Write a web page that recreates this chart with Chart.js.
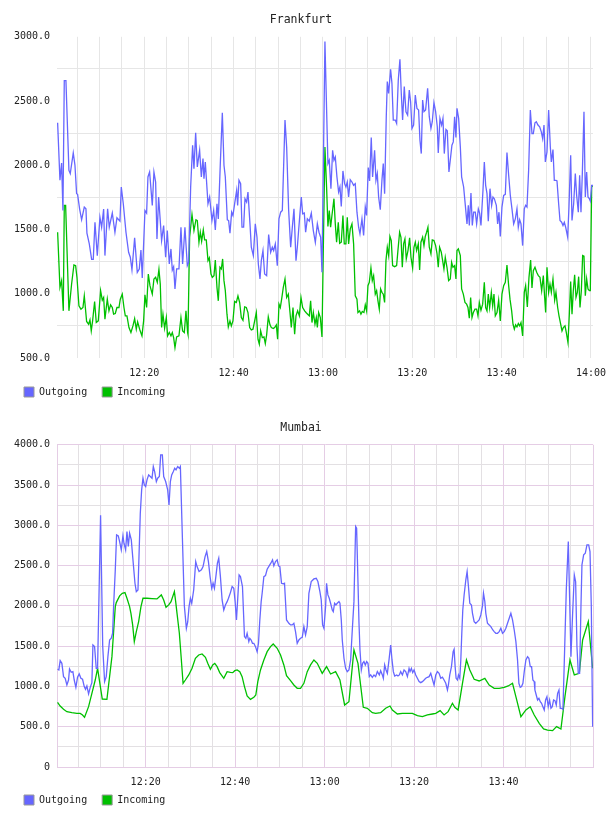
<!DOCTYPE html>
<html><head><meta charset="utf-8">
<script src="https://cdn.jsdelivr.net/npm/chart.js@4/dist/chart.umd.min.js"></script>
<style>
html,body{margin:0;padding:0;background:#fff;}
#wrap{position:relative;width:608px;height:816px;overflow:hidden;}
canvas{position:absolute;left:0;}
</style></head><body>
<div id="wrap">
<canvas id="c1" width="608" height="408" style="top:0px"></canvas>
<canvas id="c2" width="608" height="408" style="top:408px"></canvas>
</div>
<script>
// ---- DATA (time = minutes after 12:00, value) ----
const chartTitles = ['Frankfurt', 'Mumbai'];
const seriesNames = ['Outgoing', 'Incoming'];
const timeTicks = [20, 40, 60, 80, 100, 120];
const timeTickLabels = ['12:20', '12:40', '13:00', '13:20', '13:40', '14:00'];
const frankfurtYTicks = [500, 1000, 1500, 2000, 2500, 3000];
const frankfurtYLabels = ['500.0', '1000.0', '1500.0', '2000.0', '2500.0', '3000.0'];
const mumbaiYTicks = [0, 500, 1000, 1500, 2000, 2500, 3000, 3500, 4000];
const mumbaiYLabels = ['0', '500.0', '1000.0', '1500.0', '2000.0', '2500.0', '3000.0', '3500.0', '4000.0'];

const frankfurtOutgoing = [[0.60,2331],[1.12,1883],[1.49,2018],[1.79,1648],[2.09,2659],[2.46,2659],[3.13,1961],[3.43,1935],[4.10,2096],[4.48,2000],[4.85,1779],[5.07,1774],[5.52,1661],[5.97,1576],[6.57,1675],[6.94,1662],[7.16,1472],[7.69,1388],[8.21,1268],[8.58,1268],[8.96,1557],[9.48,1297],[10.07,1596],[10.45,1518],[10.90,1659],[11.19,1297],[11.79,1661],[12.16,1518],[12.84,1628],[13.43,1479],[13.88,1591],[14.55,1565],[14.85,1831],[15.30,1701],[15.90,1479],[16.49,1323],[16.87,1284],[17.24,1185],[17.84,1435],[18.43,1167],[18.88,1193],[19.25,1341],[19.55,1122],[20.15,1648],[20.52,1628],[20.82,1909],[21.19,1948],[21.79,1688],[22.16,1948],[22.54,1870],[22.84,1427],[23.21,1753],[23.88,1414],[24.33,1531],[24.78,1284],[25.15,1492],[25.60,1232],[25.97,1349],[26.27,1185],[26.57,1211],[26.87,1037],[27.24,1193],[27.76,1193],[28.21,1518],[28.58,1232],[29.10,1518],[29.63,1219],
[29.93,1245],[30.38,1831],[30.82,2156],[31.12,1974],[31.50,2253],[31.87,1987],[32.39,2117],[32.77,1909],[33.14,2052],[33.36,1896],[33.66,2026],[34.26,1701],[34.63,1753],[35.15,1570],[35.53,1648],[35.90,1497],[36.27,1701],[36.57,1583],[37.02,2013],[37.47,2409],[37.84,2000],[38.14,1909],[38.59,1576],[38.88,1570],[39.18,1472],[39.56,1635],[39.85,1609],[40.23,1701],[40.68,1805],[40.90,1688],[41.20,1883],[41.57,1857],[41.87,1518],[42.24,1518],[42.54,1740],[42.91,1714],[43.21,1792],[43.66,1544],[43.96,1362],[44.41,1297],[44.85,1544],[45.23,1440],[45.53,1232],[45.90,1115],[46.20,1258],[46.57,1336],[46.94,1154],[47.39,1141],[47.84,1461],[48.29,1323],[48.66,1362],[48.96,1336],[49.33,1388],[49.78,1219],[50.15,1583],[50.53,1635],[50.90,1648],[51.50,2352],[51.87,2143],[52.32,1648],[52.77,1362],[53.14,1518],[53.51,1661],[53.96,1258],[54.26,1362],[54.78,1596],[55.15,1753],[55.45,1622],[55.82,1628],[56.12,1479],[56.50,1583],[56.94,1565],[57.39,1628],[57.84,1492],[58.29,1401],[58.74,1544],[59.11,1479],[59.48,1440],[59.78,1167],
[60.44,2963],[61.11,2013],[61.41,2039],[61.78,1818],[62.16,2117],[62.46,2039],[62.76,2065],[63.13,1909],[63.50,1792],[63.80,1831],[64.10,1680],[64.47,1956],[64.84,1857],[65.14,1831],[65.44,1870],[65.74,1753],[66.11,1888],[66.49,1870],[66.86,1844],[67.23,1857],[67.61,1635],[67.98,1518],[68.28,1466],[68.73,1583],[69.10,1453],[69.47,1675],[69.77,1609],[70.14,1982],[70.44,1878],[70.81,2216],[71.11,1909],[71.56,2117],[71.86,1883],[72.16,1935],[72.46,1753],[72.83,1654],[73.20,1883],[73.50,2013],[73.80,1779],[74.17,2378],[74.40,2651],[74.70,2560],[75.14,2747],[75.44,2638],[75.74,2352],[76.19,2352],[76.49,2326],[76.86,2664],[77.23,2825],[77.53,2560],[77.83,2352],[78.20,2612],[78.58,2417],[78.95,2391],[79.32,2586],[79.62,2495],[79.92,2287],[80.29,2313],[80.67,2547],[81.04,2443],[81.41,2430],[81.71,2195],[82.01,2091],[82.31,2508],[82.61,2417],[82.98,2430],[83.43,2599],[83.80,2378],[84.17,2287],[84.47,2339],[84.84,2487],[85.22,2417],[85.59,2300],[85.81,2096],[86.19,2365],[86.56,2313],[86.86,2365],[87.16,2091],[87.53,2279],[87.83,2268],[88.20,1948],[88.58,2065],[88.87,2156],[89.17,2182],[89.47,2378],[89.77,2216],
[90.0,2443],[90.37,2365],[90.75,2143],[91.04,1909],[91.49,1831],[91.87,1688],[92.24,1544],[92.54,1688],[92.76,1531],[93.13,1784],[93.43,1531],[93.73,1635],[94.10,1635],[94.40,1544],[94.78,1661],[95.07,1628],[95.37,1531],[95.82,1805],[96.12,2026],[96.42,1844],[96.72,1779],[97.01,1565],[97.39,1818],[97.76,1688],[98.06,1753],[98.36,1740],[98.81,1688],[99.10,1544],[99.40,1635],[99.70,1446],[100.07,1675],[100.45,1766],[100.82,1773],[101.19,2099],[101.57,1922],[101.94,1766],[102.31,1661],[102.69,1544],[103.06,1583],[103.43,1661],[103.73,1518],[104.03,1576],[104.33,1544],[104.70,1375],[105.07,1661],[105.37,1688],[105.67,1675],[106.04,1961],[106.42,2430],[106.79,2247],[107.09,2247],[107.46,2331],[107.76,2339],[108.13,2313],[108.51,2300],[108.88,2260],[109.18,2208],[109.48,2313],[109.78,2026],[110.15,2104],[110.52,2430],[110.90,2143],[111.12,2026],[111.49,2122],[111.79,1883],[112.16,1883],[112.39,1878],[112.76,1701],[113.06,1570],[113.43,1557],[113.73,1531],[114.03,1557],[114.33,1518],[114.78,1440],[115.07,1675],[115.45,2078],[115.75,1570],[116.12,1701],[116.49,1935],[116.79,1766],[117.16,1635],[117.46,1922],[117.76,1635],[118.06,1935],[118.43,2417],[118.73,1753],[119.03,1948],[119.33,1753],[119.63,1740],[119.85,1722],[120.15,1844],[120.45,1844]];

const frankfurtIncoming = [[0.60,1479],[1.12,1050],[1.49,1102],[1.87,867],[2.09,1688],[2.39,1688],[3.13,867],[3.73,1076],[4.25,1224],[4.63,1219],[4.93,1128],[5.37,906],[5.82,880],[6.27,893],[6.57,984],[7.09,784],[7.54,763],[7.84,797],[8.13,711],[8.43,789],[8.88,940],[9.25,776],[9.70,789],[10.22,1024],[10.60,950],[10.90,971],[11.19,802],[11.72,958],[12.09,867],[12.46,914],[12.84,893],[13.13,841],[13.51,846],[13.88,893],[14.33,893],[14.63,958],[15.07,997],[15.45,893],[15.75,828],[16.12,828],[16.57,737],[17.01,698],[17.46,750],[17.84,807],[18.21,724],[18.51,781],[18.96,724],[19.48,672],[19.85,789],[20.15,992],[20.52,893],[20.90,1154],[21.27,1063],[21.79,997],[22.16,1115],[22.54,1128],[22.91,1089],[23.28,1190],[23.58,1076],[23.88,737],[24.18,841],[24.55,732],[24.93,815],[25.22,672],[25.60,698],[25.97,672],[26.27,698],[26.57,659],[26.87,581],[27.24,664],[27.76,672],[28.21,815],[28.58,711],[28.96,698],[29.33,867],[29.70,698],
[29.78,685],[30.15,1440],[30.68,1617],[31.12,1492],[31.57,1576],[31.87,1570],[32.24,1401],[32.54,1479],[32.84,1409],[33.21,1497],[33.51,1419],[33.88,1419],[34.26,1258],[34.56,1279],[34.93,1154],[35.23,1128],[35.60,1141],[35.90,1263],[36.27,1050],[36.57,945],[36.94,1206],[37.24,1193],[37.54,1271],[37.84,1102],[38.14,1024],[38.51,841],[38.81,742],[39.18,789],[39.48,750],[39.85,789],[40.23,940],[40.60,932],[40.97,984],[41.35,932],[41.72,815],[42.09,794],[42.47,898],[42.84,893],[43.21,854],[43.59,737],[43.96,719],[44.33,724],[44.71,789],[45.08,854],[45.45,646],[45.75,607],[46.05,711],[46.42,659],[46.79,664],[47.09,612],[47.39,680],[47.76,820],[48.14,758],[48.44,737],[48.88,729],[49.18,737],[49.56,758],[49.85,646],[50.15,919],[50.45,893],[50.75,958],[51.12,1050],[51.50,1115],[51.87,971],[52.24,997],[52.62,854],[52.91,737],[53.29,893],[53.66,685],[53.96,828],[54.33,867],[54.71,828],[55.08,971],[55.45,893],[55.90,867],[56.20,854],[56.57,841],[56.94,828],[57.24,945],[57.54,776],[57.84,854],[58.21,763],[58.51,815],[58.74,737],[59.03,854],[59.41,815],[59.78,664],
[60.14,1492],[60.44,2143],[60.81,1831],[61.11,1523],[61.41,1648],[61.71,1518],[62.01,1609],[62.46,1740],[62.76,1544],[63.05,1401],[63.43,1557],[63.73,1393],[64.10,1401],[64.47,1609],[64.77,1388],[65.14,1388],[65.44,1596],[65.74,1388],[66.11,1505],[66.49,1544],[66.86,1388],[67.23,984],[67.61,958],[67.83,854],[68.20,867],[68.50,841],[68.80,862],[69.17,854],[69.47,914],[69.77,867],[70.07,1063],[70.37,1089],[70.74,1201],[71.04,1102],[71.34,1141],[71.71,997],[72.01,1024],[72.31,945],[72.61,880],[72.90,1037],[73.20,1011],[73.50,997],[73.80,932],[74.10,1258],[74.40,1362],[74.70,1297],[74.99,1446],[75.29,1414],[75.59,1219],[76.04,1211],[76.49,1219],[76.78,1336],[77.16,1479],[77.46,1440],[77.76,1206],[78.05,1388],[78.35,1427],[78.65,1271],[79.03,1336],[79.40,1435],[79.70,1284],[80.07,1201],[80.37,1362],[80.67,1401],[80.96,1336],[81.34,1388],[81.64,1185],[81.93,1401],[82.31,1440],[82.61,1375],[82.90,1446],[83.20,1479],[83.50,1518],[83.80,1362],[84.17,1310],[84.47,1419],[84.84,1414],[85.22,1375],[85.52,1315],[85.81,1206],[86.11,1362],[86.49,1323],[86.79,1258],[87.08,1193],[87.38,1284],[87.76,1206],[88.13,1102],[88.50,1115],[88.80,1245],[89.10,1206],[89.47,1219],[89.77,1115],
[90.0,1336],[90.30,1349],[90.75,1297],[91.04,1037],[91.42,997],[91.79,932],[92.16,919],[92.46,893],[92.76,810],[93.06,971],[93.36,815],[93.66,854],[94.03,880],[94.40,880],[94.70,828],[95.0,932],[95.37,872],[95.75,919],[96.12,1089],[96.42,893],[96.72,867],[97.01,997],[97.31,893],[97.69,1011],[97.99,906],[98.28,997],[98.58,828],[98.96,854],[99.33,950],[99.70,789],[100.07,997],[100.45,1063],[100.82,1089],[101.19,1224],[101.57,1063],[101.87,958],[102.24,867],[102.54,763],[102.84,724],[103.13,758],[103.43,742],[103.73,768],[104.03,750],[104.33,776],[104.70,672],[105.07,1011],[105.37,1063],[105.75,898],[106.12,1128],[106.49,1263],[106.79,1045],[107.09,1180],[107.46,1206],[107.84,1167],[108.21,1141],[108.58,1128],[108.96,1024],[109.33,1141],[109.63,971],[109.85,854],[110.15,1206],[110.52,1011],[110.82,1076],[111.12,1011],[111.49,1115],[111.87,950],[112.16,1011],[112.54,893],[112.84,828],[113.21,763],[113.51,711],[113.81,737],[114.18,750],[114.48,698],[114.85,620],[115.15,841],[115.45,1096],[115.75,841],[116.04,1024],[116.34,1148],[116.64,971],[116.94,1011],[117.24,1133],[117.54,893],[117.84,1024],[118.13,1297],[118.43,1292],[118.73,984],[119.03,1115],[119.33,1037],[119.63,1024],[119.85,1024],[120.15,1831],[120.45,1844]];

const mumbaiOutgoing = [[0.30,1213],[0.59,1205],[0.89,1321],[1.27,1287],[1.64,1122],[2.01,1101],[2.39,1018],[2.76,1080],[2.98,1217],[3.36,1176],[3.73,1184],[4.03,1080],[4.40,989],[4.77,1114],[5.15,1155],[5.52,1101],[5.89,1089],[6.27,998],[6.56,964],[6.86,1006],[7.24,907],[7.61,989],[7.98,1047],[8.21,1515],[8.58,1494],[8.95,1225],[9.25,1225],[9.92,3126],[10.40,1500],[10.82,1060],[11.19,1122],[11.56,1370],[11.94,1577],[12.31,1598],[12.61,1660],[12.83,1991],[13.21,2447],[13.50,2882],[13.88,2869],[14.18,2799],[14.55,2695],[14.92,2869],[15.15,2778],[15.52,2695],[15.82,2923],[16.12,2737],[16.41,2902],[16.79,2819],[17.16,2571],[17.61,2281],[17.91,2178],[18.28,2198],[18.80,3151],[19.10,3440],[19.40,3585],[19.70,3502],[20.0,3482],[20.30,3565],[20.67,3627],[21.04,3606],[21.42,3585],[21.71,3730],[22.01,3668],[22.39,3544],[22.68,3585],[23.06,3606],[23.36,3875],[23.73,3875],[24.03,3606],[24.47,3544],[24.92,3440],[25.22,3254],[25.52,3544],[25.82,3627],[26.19,3668],[26.49,3709],[26.79,3689],[27.16,3730],[27.53,3709],[27.76,3730],[28.13,3000],[28.65,2000],[29.10,1722],[29.40,1800],[29.70,1991],[30.0,2095],[30.30,2033],[30.74,2200],[31.19,2550],[31.49,2488],[31.94,2426],[32.46,2447],[32.83,2488],[33.28,2612],[33.65,2675],[34.03,2550],[34.40,2364],[34.77,2219],[35.07,2281],[35.37,2219],[35.74,2385],[36.04,2530],[36.34,2592],[36.71,2364],[37.09,2074],[37.46,1950],[37.83,2012],[38.21,2053],[38.51,2095],[38.95,2165],[39.33,2240],[39.70,2219],[40.0,2053],[40.30,1826],[40.59,2100],[40.89,2385],[41.19,2364],[41.64,2240],[42.09,1619],[42.39,1598],[42.68,1660],[43.06,1557],[43.28,1598],[43.58,1577],[43.88,1536],[44.18,1536],[44.55,1494],[44.92,1432],[45.22,1536],[45.52,1826],[45.82,2053],[46.04,2157],[46.42,2364],[46.79,2376],[47.16,2455],[47.61,2497],[47.98,2530],[48.36,2571],[48.65,2497],[49.03,2550],[49.40,2571],[49.70,2497],[50.0,2488],[50.37,2281],[50.74,2273],[51.04,2281],[51.49,1826],[52.01,1784],[52.39,1764],[52.76,1764],[53.13,1784],[53.50,1681],[53.88,1536],[54.25,1577],[54.62,1598],[55.0,1610],[55.37,1743],
[55.74,1640],[56.12,1743],[56.49,2157],[57.01,2302],[57.61,2335],[58.13,2343],[58.50,2302],[58.95,2178],[59.25,2074],[59.55,1764],[59.85,1722],[60.22,1991],[60.44,2281],[60.74,2136],[61.04,2095],[61.34,2033],[61.71,1950],[61.94,1929],[62.24,2033],[62.53,2012],[62.83,2033],[63.21,2053],[63.43,2033],[63.73,1826],[63.95,1577],[64.33,1350],[64.70,1225],[65.07,1184],[65.44,1205],[65.82,1329],[66.19,1701],[66.56,2053],[66.94,2985],[67.16,2964],[67.46,2300],[67.68,1800],[67.91,1453],[68.21,1205],[68.50,1287],[68.80,1308],[69.10,1267],[69.40,1308],[69.70,1287],[69.99,1122],[70.30,1143],[70.67,1114],[71.04,1143],[71.41,1122],[71.79,1184],[72.24,1143],[72.53,1196],[72.91,1143],[73.13,1101],[73.43,1267],[73.73,1205],[74.03,1163],[74.40,1329],[74.77,1515],[75.07,1329],[75.37,1184],[75.67,1130],[76.12,1143],[76.41,1130],[76.71,1143],[77.01,1184],[77.39,1143],[77.76,1205],[78.13,1184],[78.51,1122],[78.88,1225],[79.10,1184],[79.40,1225],[79.70,1172],[80.0,1205],[80.37,1143],[80.74,1101],[81.12,1060],[81.49,1047],[81.86,1060],[82.24,1080],[82.61,1101],[82.98,1114],[83.36,1122],[83.73,1163],[84.10,1089],[84.47,1018],[84.85,1143],[85.22,1184],[85.59,1163],[85.97,1101],[86.34,1114],[86.71,1080],[87.09,1039],[87.46,956],[87.68,1018],[87.98,1143],[88.36,1246],[88.73,1432],[88.95,1461],[89.18,1246],[89.40,1101],[89.70,1080],[89.92,1143],[90.22,1101],[90.45,1329],[90.67,1660],[90.89,1950],[91.19,2136],[91.57,2323],[91.86,2426],[92.16,2240],[92.46,2033],[92.83,2012],[93.06,1908],[93.43,1805],[93.80,1784],[94.18,1805],[94.55,1826],[94.92,1888],[95.30,2000],[95.52,2157],[95.82,2053],[96.04,1908],[96.41,1784],[96.79,1764],[97.16,1743],[97.61,1701],[97.91,1681],[98.28,1660],[98.65,1660],[99.03,1681],[99.40,1722],[99.77,1660],[100.15,1681],[100.52,1722],[100.89,1784],[101.27,1846],[101.64,1908],[102.01,1826],[102.39,1701],[102.76,1557],[103.13,1329],[103.43,1039],[103.73,989],[104.03,998],[104.33,1039],[104.63,1184],[105.0,1329],[105.37,1370],[105.67,1350],[105.97,1246],[106.27,1246],[106.56,1080],[106.86,1060],[107.01,956],[107.31,894],[107.61,832],[107.91,853],[108.21,811],[108.50,791],[108.80,749],[109.10,708],[109.40,832],[109.70,873],[109.99,749],[110.30,832],[110.60,729],[110.89,749],[111.19,832],[111.49,824],[111.79,770],[112.09,915],[112.39,956],[112.68,729],[112.98,729],[113.28,716],[113.58,1300],[114.03,2200],[114.48,2799],[114.77,2100],[115.07,1370],[115.44,1900],[115.82,2385],[116.12,2300],[116.41,1500],[116.71,1163],[117.01,1163],[117.31,2000],[117.53,2509],[117.91,2633],[118.28,2654],[118.65,2757],[119.03,2757],[119.33,2675],[119.62,2000],[119.92,501]];

const mumbaiIncoming = [[0.30,803],[0.89,757],[1.64,716],[2.39,687],[3.50,675],[4.62,666],[5.37,666],[5.89,646],[6.34,617],[7.24,749],[7.98,915],[8.73,1080],[9.25,1225],[10.30,844],[11.34,840],[12.46,1370],[13.21,1991],[13.43,2041],[14.18,2124],[14.77,2157],[15.37,2165],[15.82,2095],[16.41,1991],[16.71,1908],[17.09,1764],[17.46,1557],[17.91,1681],[18.43,1805],[18.95,1991],[19.40,2095],[20.30,2095],[21.42,2091],[22.53,2087],[23.50,2136],[24.03,2074],[24.55,1983],[25.15,2012],[25.67,2053],[26.42,2178],[26.71,2053],[27.01,1908],[27.53,1660],[27.98,1329],[28.36,1039],[28.88,1080],[29.63,1143],[30.37,1225],[31.12,1350],[31.86,1391],[32.61,1403],[33.36,1362],[33.88,1287],[34.47,1213],[35.0,1267],[35.45,1287],[35.97,1246],[36.56,1172],[37.46,1101],[38.21,1184],[38.95,1176],[39.47,1172],[39.92,1196],[40.45,1205],[41.04,1184],[41.56,1122],[42.09,998],[42.68,882],[43.43,840],[44.18,865],[44.62,894],[45.07,1060],[45.67,1205],[46.42,1329],[47.16,1432],[47.91,1494],[48.51,1527],[49.40,1474],[50.15,1391],[50.89,1267],[51.49,1134],[52.39,1072],[53.13,1018],[53.88,977],[54.62,977],
[55.37,1039],[56.12,1184],[56.86,1267],[57.61,1329],[58.36,1287],[59.47,1163],[60.44,1246],[61.34,1155],[62.46,1184],[63.43,1080],[64.47,770],[65.44,811],[66.56,1453],[67.46,1287],[68.65,741],[69.55,729],[70.67,675],[71.41,666],[72.53,675],[73.65,729],[74.62,757],[75.15,708],[76.27,658],[77.39,666],[78.51,666],[79.62,666],[80.74,637],[81.86,625],[82.98,646],[84.10,658],[84.85,666],[85.82,700],[86.71,646],[87.61,687],[88.58,791],[89.10,741],[89.85,708],[90.82,1039],[91.71,1329],[92.46,1205],[93.43,1089],[94.55,1068],[95.82,1101],[96.79,1018],[97.91,977],[99.03,977],[100.15,989],[101.04,1006],[102.01,1039],[102.76,873],[103.88,625],[105.0,708],[105.97,749],[106.86,646],[107.98,542],[108.95,472],[109.85,459],[110.97,451],[111.86,501],[112.83,472],[113.73,873],[114.85,1329],[115.82,1143],[116.94,1163],[117.68,1577],[118.95,1805],[119.92,1225]];

// ---- STYLE ----
const FONT = '"DejaVu Sans Mono", "Liberation Mono", monospace';
const BLUE = '#6666ff';
const GREEN = '#00c000';
const GRID = '#e6e6e6';
const PINK = '#e5cde5';
const MGRAY = '#e3e0e3';
const TEXT = '#222';

function toXY(arr) { return arr.map(p => ({x: p[0], y: p[1]})); }

// moves the legend row to a fixed vertical position after layout
const legendPlace = {
  id: 'legendPlace',
  afterLayout(chart, args, opts) {
    const lg = chart.legend;
    if (!lg || opts.top == null) return;
    const dy = opts.top - lg.top;
    lg.top += dy; lg.bottom += dy;
  }
};

function makeChart(id, cfg) {
  const ctx = document.getElementById(id);
  return new Chart(ctx, {
    type: 'line',
    plugins: [legendPlace],
    data: {
      datasets: [
        {label: seriesNames[0], data: toXY(cfg.out), borderColor: BLUE, backgroundColor: BLUE, borderWidth: 1.3, pointRadius: 0, tension: 0, fill: false},
        {label: seriesNames[1], data: toXY(cfg.inc), borderColor: GREEN, backgroundColor: GREEN, borderWidth: 1.3, pointRadius: 0, tension: 0, fill: false}
      ]
    },
    options: {
      responsive: false,
      animation: false,
      devicePixelRatio: 1,
      layout: {padding: {left: 9, right: 15, top: 0, bottom: -8}},
      plugins: {
        legendPlace: {top: 372},
        title: {display: true, text: cfg.title, color: TEXT, font: {family: FONT, size: 11.5, weight: 'normal'}, padding: {top: 13, bottom: 10}},
        legend: {
          display: true, position: 'bottom', align: 'start',
          labels: {
            boxWidth: 10, boxHeight: 10, padding: 15, color: TEXT,
            font: {family: FONT, size: 10},
            generateLabels: (chart) => chart.data.datasets.map((ds, i) => ({
              text: ds.label, fillStyle: ds.borderColor, strokeStyle: '#999', lineWidth: 1,
              hidden: false, datasetIndex: i, fontColor: TEXT
            }))
          }
        },
        tooltip: {enabled: false}
      },
      scales: {
        x: {
          type: 'linear', min: cfg.xmin, max: cfg.xmax,
          afterBuildTicks: (s) => { const t = []; for (let v = 5; v <= 120; v += 5) t.push({value: v}); s.ticks = t; },
          afterFit: (s) => { s.height = cfg.xh; s.paddingLeft = 0; s.paddingRight = 0; },
          ticks: {
            autoSkip: false, maxRotation: 0, minRotation: 0, padding: 9, color: TEXT,
            font: {family: FONT, size: 10},
            callback: (v) => { const i = timeTicks.indexOf(v); if (i < 0) return ''; if (v === 120 && !cfg.show14) return ''; return timeTickLabels[i]; }
          },
          grid: {drawTicks: false, lineWidth: 1, color: cfg.xGridColor},
          border: {display: cfg.border, color: PINK}
        },
        y: {
          type: 'linear', min: cfg.ymin, max: cfg.ymax,
          afterBuildTicks: (s) => { const t = []; for (let v = cfg.ymin; v <= cfg.ymax; v += 250) t.push({value: v}); s.ticks = t; },
          afterFit: (s) => { s.width = 48; s.paddingTop = 0; s.paddingBottom = 0; },
          ticks: {
            autoSkip: false, padding: 7, color: TEXT,
            font: {family: FONT, size: 10},
            callback: (v) => { const i = cfg.yTicks.indexOf(v); return i < 0 ? '' : cfg.yLabels[i]; }
          },
          grid: {drawTicks: false, lineWidth: 1, color: cfg.yGridColor},
          border: {display: cfg.border, color: PINK}
        }
      }
    }
  });
}

makeChart('c1', {
  title: chartTitles[0], out: frankfurtOutgoing, inc: frankfurtIncoming,
  xmin: 0.46, xmax: 120.45, ymin: 500, ymax: 3000, xh: 23, show14: true, border: false,
  yTicks: frankfurtYTicks, yLabels: frankfurtYLabels,
  xGridColor: GRID,
  yGridColor: (c) => (c.tick && c.tick.value % 500 === 0) ? 'rgba(0,0,0,0)' : GRID
});

makeChart('c2', {
  title: chartTitles[1], out: mumbaiOutgoing, inc: mumbaiIncoming,
  xmin: 0.18, xmax: 120, ymin: 0, ymax: 4000, xh: 22, show14: false, border: true,
  yTicks: mumbaiYTicks, yLabels: mumbaiYLabels,
  xGridColor: (c) => (c.tick && c.tick.value % 20 === 0) ? PINK : MGRAY,
  yGridColor: (c) => (c.tick && c.tick.value % 500 === 0) ? PINK : MGRAY
});
</script>
</body></html>
